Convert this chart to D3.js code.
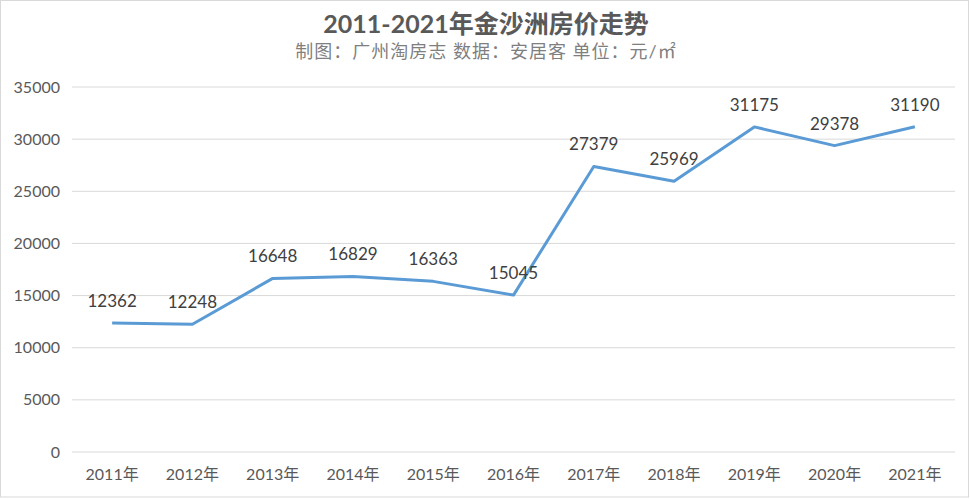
<!DOCTYPE html>
<html lang="zh">
<head>
<meta charset="UTF-8">
<title>2011-2021年金沙洲房价走势</title>
<script src="https://d3js.org/d3.v7.min.js"></script>
<style>
    body { margin: 0; background: #fff; }
    svg text { font-family: Lato, "Noto Sans CJK SC", sans-serif; }
</style>
</head>
<body>
<svg id="chart" width="971" height="499"></svg>
<script>
// data
const years = ["2011年", "2012年", "2013年", "2014年", "2015年", "2016年", "2017年", "2018年", "2019年", "2020年", "2021年"];
const prices = [12362, 12248, 16648, 16829, 16363, 15045, 27379, 25969, 31175, 29378, 31190];
const yTicks = [0, 5000, 10000, 15000, 20000, 25000, 30000, 35000];

const W = 971, H = 499;
const m = {left: 72, right: 16, top: 87, bottom: 47};
const svg = d3.select("#chart");

// outer frame
svg.append("rect")
    .attr("x", 0.5).attr("y", 0.5)
    .attr("width", W - 3).attr("height", H - 2.5)
    .attr("fill", "#fff").attr("stroke", "#d9d9d9");

const x = d3.scaleBand().domain(years).range([m.left, W - m.right]);
const y = d3.scaleLinear().domain([0, 35000]).range([H - m.bottom, m.top]);

// gridlines
svg.append("g").selectAll("line")
    .data(yTicks)
    .enter().append("line")
    .attr("x1", m.left).attr("x2", W - m.right)
    .attr("y1", d => y(d)).attr("y2", d => y(d))
    .attr("stroke", "#d9d9d9").attr("stroke-width", 1);

// y labels
svg.append("g").selectAll("text")
    .data(yTicks)
    .enter().append("text")
    .attr("x", 60).attr("y", d => y(d))
    .attr("dy", "0.35em")
    .attr("text-anchor", "end")
    .attr("font-size", 16).attr("fill", "#595959")
    .text(d => d);

// x labels
svg.append("g").selectAll("text")
    .data(years)
    .enter().append("text")
    .attr("x", d => x(d) + x.bandwidth() / 2)
    .attr("y", H - m.bottom + 28)
    .attr("text-anchor", "middle")
    .attr("font-size", 16).attr("fill", "#595959")
    .text(d => d);

// line
const line = d3.line()
    .x((d, i) => x(years[i]) + x.bandwidth() / 2)
    .y(d => y(d));

svg.append("path")
    .datum(prices)
    .attr("d", line)
    .attr("fill", "none")
    .attr("stroke", "#5b9bd5")
    .attr("stroke-width", 3)
    .attr("stroke-linejoin", "round");

// data labels
svg.append("g").selectAll("text")
    .data(prices)
    .enter().append("text")
    .attr("x", (d, i) => x(years[i]) + x.bandwidth() / 2)
    .attr("y", d => y(d) - 16)
    .attr("text-anchor", "middle")
    .attr("font-size", 17).attr("fill", "#404040")
    .text(d => d);

// titles
svg.append("text")
    .attr("x", 486).attr("y", 33)
    .attr("text-anchor", "middle")
    .attr("font-size", 25).attr("font-weight", "bold").attr("fill", "#595959")
    .text("2011-2021年金沙洲房价走势");

svg.append("text")
    .attr("x", 486).attr("y", 58)
    .attr("text-anchor", "middle")
    .attr("font-size", 18).attr("letter-spacing", 1).attr("fill", "#7f7f7f")
    .text("制图：广州淘房志 数据：安居客 单位：元/㎡");
</script>
</body>
</html>
